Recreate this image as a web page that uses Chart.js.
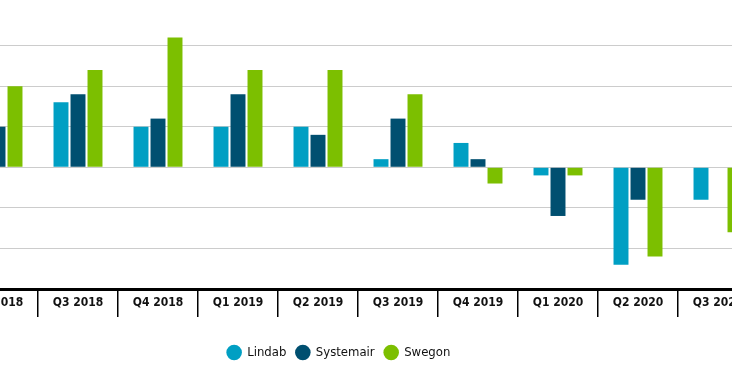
<!DOCTYPE html>
<html>
<head>
<meta charset="utf-8">
<script src="https://cdn.jsdelivr.net/npm/chart.js@4"></script>
<style>
  html, body { margin: 0; padding: 0; background: #fff; overflow: hidden; width: 732px; height: 377px; }
  #wrap { position: absolute; left: -80px; top: 0; width: 838px; height: 377px; }
</style>
</head>
<body>
<div id="wrap"><canvas id="myChart" width="838" height="377"></canvas></div>
<script>
const quarters = ['Q2 2018', 'Q3 2018', 'Q4 2018', 'Q1 2019', 'Q2 2019', 'Q3 2019', 'Q4 2019', 'Q1 2020', 'Q2 2020', 'Q3 2020']
const lindab = [6, 8, 5, 5, 5, 1, 3, -1, -12, -4]
const systemair = [5, 9, 6, 9, 4, 6, 1, -6, -4, 0]
const swegon = [10, 12, 16, 12, 12, 9, -2, -1, -11, -8]

const colors = ['#009fc3', '#004f70', '#7cbf00']
const labelFont = "'Liberation Sans Narrow', 'DejaVu Sans Condensed', sans-serif"

function makeSet(name, values, color) {
    return {
        label: name,
        data: values,
        backgroundColor: color,
        borderWidth: 0,
        categoryPercentage: 0.6375,
        barPercentage: 0.88
    }
}

const data = {
    labels: quarters,
    datasets: [
        makeSet('Lindab', lindab, colors[0]),
        makeSet('Systemair', systemair, colors[1]),
        makeSet('Swegon', swegon, colors[2])
    ]
}

const config = {
    type: 'bar',
    data: data,
    options: {
        responsive: false,
        animation: false,
        layout: { padding: { top: 5, left: 0, right: 0, bottom: 8 } },
        plugins: {
            tooltip: { enabled: false },
            legend: {
                position: 'bottom',
                labels: {
                    usePointStyle: true,
                    pointStyle: 'circle',
                    boxWidth: 14,
                    boxHeight: 11,
                    padding: 10,
                    color: '#111',
                    font: { family: labelFont, size: 13 }
                }
            }
        },
        scales: {
            x: {
                grid: {
                    offset: true,
                    drawOnChartArea: false,
                    drawTicks: true,
                    tickLength: 28,
                    color: '#000',
                    lineWidth: 1.5
                },
                border: { display: true, color: '#000', width: 3 },
                ticks: {
                    padding: -21,
                    color: '#111',
                    font: { family: labelFont, size: 12, weight: 'bold' }
                },
                afterFit: function (scale) { scale.height = 47 }
            },
            y: {
                min: -15,
                max: 20,
                ticks: { display: false, stepSize: 5 },
                border: { display: false },
                grid: {
                    drawTicks: false,
                    lineWidth: 1,
                    color: function (ctx) {
                        return ctx.tick && ctx.tick.value === 20 ? 'rgba(0,0,0,0)' : '#cccccc'
                    }
                },
                afterFit: function (scale) { scale.width = 38 }
            }
        }
    }
}

const myChart = new Chart(document.getElementById('myChart'), config)
</script>
</body>
</html>
